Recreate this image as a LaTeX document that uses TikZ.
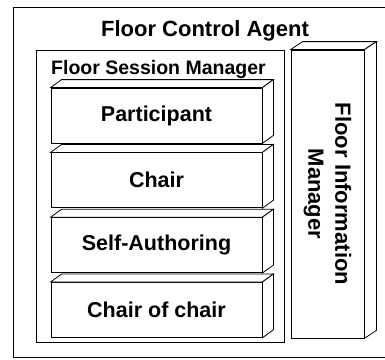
\documentclass[tikz,border=0pt]{standalone}
\usepackage{fontspec}
\setmainfont{Liberation Sans}
\usetikzlibrary{positioning,calc}

\tikzset{
  frame/.style={draw=black, line width=0.8pt},
  slab/.style={frame, fill=white, inner sep=0pt, minimum width=211pt, minimum height=55pt,
    font=\fontsize{21.5}{24}\selectfont\bfseries},
  fimbox/.style={frame, fill=white, inner sep=0pt, minimum width=73pt, minimum height=288pt},
}
% top and right faces of a slab
\newcommand{\slabdepth}[2]{%
  \draw[frame, fill=white] (#1.north west) -- ($(#1.north west)+#2$) -- ($(#1.north east)+#2$) -- (#1.north east) -- cycle;
  \draw[frame, fill=white] (#1.north east) -- ($(#1.north east)+#2$) -- ($(#1.south east)+#2$) -- (#1.south east) -- cycle;}

\begin{document}
\begin{tikzpicture}[x=1pt, y=-1pt]
	\useasboundingbox (0,0) rectangle (385,359);
	% Floor Control Agent
	\draw[frame] (13,7) rectangle (392,357);
	\node[anchor=base, font=\fontsize{22}{26}\selectfont\bfseries] (fca) at (205,36) {Floor Control Agent};

	% Floor Session Manager
	\draw[frame] (36,50) rectangle (284,342);
	\node[anchor=base, font=\fontsize{19.5}{23}\selectfont\bfseries] (fsm) at (158.5,74) {Floor Session Manager};

	\node[slab] (part) at (156.5,115.5) {Participant};
	\slabdepth{part}{(11,-8)}
	\node[slab, below=9pt of part] (chair) {Chair};
	\slabdepth{chair}{(11,-8)}
	\node[slab, below=9pt of chair] (self) {Self-Authoring};
	\slabdepth{self}{(11,-8)}
	\node[slab, below=9pt of self] (coc) {Chair of chair};
	\slabdepth{coc}{(11,-8)}

	% Floor Information Manager
	\node[fimbox] (fim) at (327.5,194) {};
	\slabdepth{fim}{(12,-8)}
	\node[rotate=-90, align=center, font=\fontsize{22}{27}\selectfont\bfseries] (fimtext) at (fim.center) {Floor Information\\Manager};
\end{tikzpicture}
\end{document}
